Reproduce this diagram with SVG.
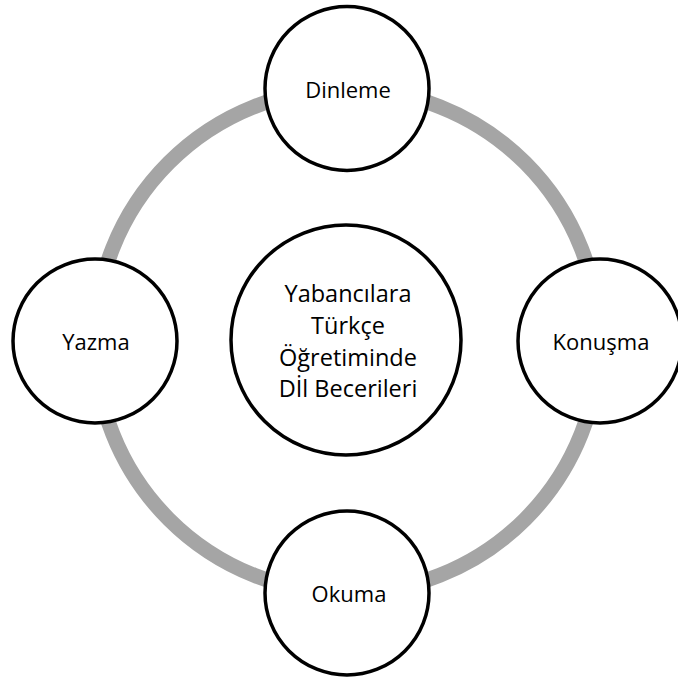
<svg xmlns="http://www.w3.org/2000/svg" width="678" height="682" viewBox="0 0 678 682">
<style>
.node{fill:#FFFFFF;stroke:#000000;stroke-width:3.5}
.lbl{font-family:"Open Sans","Liberation Sans",sans-serif;font-size:22px;fill:#000000;text-anchor:middle}
.ctr{font-family:"Open Sans","Liberation Sans",sans-serif;font-size:23.5px;fill:#000000;text-anchor:middle}
.ring{fill:none;stroke:#A5A5A5;stroke-width:15}
</style>
<rect width="678" height="682" fill="#FFFFFF"/>
<g id="connectors">
<circle class="ring" cx="347" cy="341" r="252"/>
</g>
<g id="center">
<circle class="node" cx="346" cy="340" r="115"/>
<text class="ctr" x="348" y="302">Yabancılara</text>
<text class="ctr" x="348" y="334">Türkçe</text>
<text class="ctr" x="348" y="366">Öğretiminde</text>
<text class="ctr" x="348" y="397">Dİl Becerileri</text>
</g>
<g id="dinleme">
<circle class="node" cx="347" cy="88.5" r="82"/>
<text class="lbl" x="348" y="98">Dinleme</text>
</g>
<g id="konusma">
<circle class="node" cx="600" cy="341" r="82"/>
<text class="lbl" x="601" y="350">Konuşma</text>
</g>
<g id="okuma">
<circle class="node" cx="347" cy="593" r="82"/>
<text class="lbl" x="349" y="602">Okuma</text>
</g>
<g id="yazma">
<circle class="node" cx="95" cy="341" r="82"/>
<text class="lbl" x="96" y="350">Yazma</text>
</g>
</svg>
